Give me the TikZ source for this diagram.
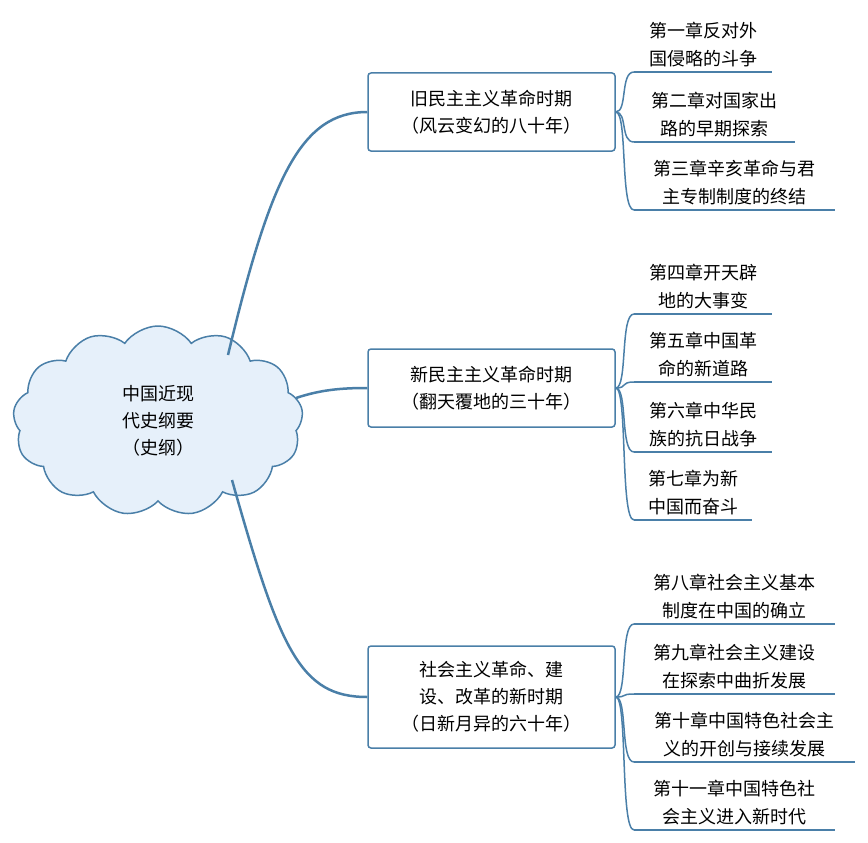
\documentclass[tikz,border=0pt]{standalone}
\usepackage{fontspec}
\setmainfont{Noto Sans CJK SC}
\usetikzlibrary{shapes.symbols}
\definecolor{ln}{HTML}{4A7FA8}
\definecolor{cl}{HTML}{E6F0FA}
\begin{document}
\begin{tikzpicture}[x=1pt,y=-1pt,
  mid/.style={draw=ln,line width=1.5pt,rounded corners=3pt,fill=white,minimum width=247pt,align=center,font=\fontsize{18}{27}\selectfont},
  leaf/.style={align=center,font=\fontsize{18}{28}\selectfont,inner sep=0pt},
  con/.style={draw=ln,line width=1.5pt},
  br/.style={draw=ln,line width=2.5pt}]
\useasboundingbox (0,0) rectangle (868,843);
\node[cloud,cloud puffs=13,cloud puff arc=110,aspect=1.5,draw=ln,line width=1.5pt,fill=cl,minimum width=290pt,minimum height=190pt,align=center,font=\fontsize{18}{27}\selectfont] (c) at (158,421) {中国近现\\代史纲要\\（史纲）};
\node[mid,minimum height=78pt] (m1) at (491.5,112) {旧民主主义革命时期\\（风云变幻的八十年）};
\node[mid,minimum height=78pt] (m2) at (491.5,388) {新民主主义革命时期\\（翻天覆地的三十年）};
\node[mid,minimum height=102pt] (m3) at (491.5,697) {社会主义革命、建\\设、改革的新时期\\（日新月异的六十年）};
\coordinate (c1) at (228,355);
\coordinate (c2) at (296,398);
\coordinate (c3) at (232,480);
\draw[br] (c1) .. controls (270,180) and (300,112) .. (m1.west);
\draw[br] (c2) .. controls (320,390) and (340,388) .. (m2.west);
\draw[br] (c3) .. controls (280,650) and (300,697) .. (m3.west);
\foreach \n/\y/\r/\a/\b/\m in {
 1/72/772/第一章反对外/国侵略的斗争/m1,
 2/142/795/第二章对国家出/路的早期探索/m1,
 3/210/835/第三章辛亥革命与君/主专制制度的终结/m1,
 4/314/772/第四章开天辟/地的大事变/m2,
 5/382/772/第五章中国革/命的新道路/m2,
 6/452/772/第六章中华民/族的抗日战争/m2,
 7/520/752/第七章为新/中国而奋斗/m2,
 8/624/835/第八章社会主义基本/制度在中国的确立/m3,
 9/694/835/第九章社会主义建设/在探索中曲折发展/m3,
 10/762/855/第十章中国特色社会主/义的开创与接续发展/m3,
 11/830/835/第十一章中国特色社/会主义进入新时代/m3}{
 \coordinate (u\n) at (634,\y);
 \coordinate (e\n) at (\r,\y);
 \node[leaf,anchor=south] (l\n) at ({(634+\r)/2},\y-5) {\a\\\b};
 \draw[con] (u\n) -- (e\n);
 \draw[con] (\m.east) .. controls ([xshift=12pt]\m.east) and ([xshift=-14pt]u\n) .. (u\n);
}
\end{tikzpicture}
\end{document}
